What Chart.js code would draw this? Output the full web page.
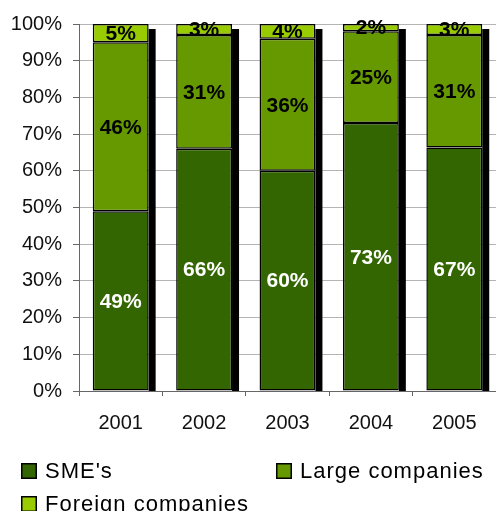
<!DOCTYPE html>
<html>
<head>
<meta charset="utf-8">
<script src="https://cdn.jsdelivr.net/npm/chart.js@4"></script>
<style>
  html, body { margin: 0; padding: 0; background: #fff; }
  #wrap { width: 496px; height: 511px; position: relative; }
</style>
</head>
<body>
<div id="wrap"><canvas id="shareChart"></canvas></div>
<script>
// shares of companies per year (percent)
const years = ['2001', '2002', '2003', '2004', '2005'];
const smes = [49, 66, 60, 73, 67];
const large = [46, 31, 36, 25, 31];
const foreign = [5, 3, 4, 2, 3];
const yTicks = [0, 10, 20, 30, 40, 50, 60, 70, 80, 90, 100];

const FONT = '"Liberation Sans", Arial, sans-serif';

// 100% stacking: each year's segments are scaled to their total
const totals = years.map((_, i) => smes[i] + large[i] + foreign[i]);
const share = arr => arr.map((v, i) => v / totals[i] * 100);

const series = [
    { label: "SME's", raw: smes, color: '#336600', text: '#ffffff' },
    { label: 'Large companies', raw: large, color: '#669900', text: '#000000' },
    { label: 'Foreign companies', raw: foreign, color: '#99cc00', text: '#000000' }
];

// black drop shadow on the right of each stacked column
const shadowPlugin = {
    id: 'barShadow',
    beforeDatasetsDraw(chart) {
        const ctx = chart.ctx;
        const area = chart.chartArea;
        const topMeta = chart.getDatasetMeta(series.length - 1);
        ctx.save();
        ctx.beginPath();
        ctx.rect(area.left, area.top, area.right - area.left, area.bottom - area.top);
        ctx.clip();
        ctx.fillStyle = '#000';
        topMeta.data.forEach(bar => {
            const x = bar.x + bar.width / 2;
            ctx.fillRect(x, bar.y + 5, 7, area.bottom - bar.y - 5);
        });
        ctx.restore();
    }
};

// percent labels in the middle of each segment
const labelPlugin = {
    id: 'segmentLabels',
    afterDatasetsDraw(chart) {
        const ctx = chart.ctx;
        ctx.save();
        ctx.font = 'bold 21px ' + FONT;
        ctx.textAlign = 'center';
        ctx.textBaseline = 'middle';
        series.forEach((s, d) => {
            chart.getDatasetMeta(d).data.forEach((bar, i) => {
                ctx.fillStyle = s.text;
                ctx.fillText(s.raw[i] + '%', bar.x, (bar.y + bar.base) / 2 + 1);
            });
        });
        ctx.restore();
    }
};

// legend laid out in two columns under the axis
const legendPlugin = {
    id: 'gridLegend',
    afterDraw(chart) {
        const ctx = chart.ctx;
        const spots = [[21, 471], [276, 471], [21, 504]];
        ctx.save();
        ctx.font = '22px ' + FONT;
        ctx.letterSpacing = '1px';
        ctx.textBaseline = 'middle';
        ctx.textAlign = 'left';
        series.forEach((s, i) => {
            const [x, y] = spots[i];
            ctx.fillStyle = s.color;
            ctx.fillRect(x, y - 8, 16, 16);
            ctx.strokeStyle = '#000';
            ctx.lineWidth = 1.5;
            ctx.strokeRect(x + 0.75, y - 7.25, 14.5, 14.5);
            ctx.fillStyle = '#000';
            ctx.fillText(s.label, x + 24, y + 1);
        });
        ctx.restore();
    }
};

const ctx = document.getElementById('shareChart').getContext('2d');
new Chart(ctx, {
    type: 'bar',
    data: {
        labels: years,
        datasets: series.map(s => ({
            label: s.label,
            data: share(s.raw),
            backgroundColor: s.color,
            borderColor: '#000',
            borderWidth: 1.5,
            borderSkipped: false,
            barPercentage: 0.67,
            categoryPercentage: 1
        }))
    },
    options: {
        responsive: true,
        maintainAspectRatio: false,
        animation: false,
        layout: { padding: { top: 24, right: -3, bottom: 70, left: 0 } },
        plugins: {
            legend: { display: false },
            tooltip: { enabled: false }
        },
        scales: {
            x: {
                stacked: true,
                afterFit: scale => { scale.height = 50; },
                grid: { offset: true, drawOnChartArea: false, tickLength: 5, tickColor: '#666' },
                border: { display: true, color: '#666' },
                ticks: { color: '#111', padding: 15, font: { family: FONT, size: 20 } }
            },
            y: {
                stacked: true,
                min: 0,
                max: 100,
                afterFit: scale => { scale.width = 79; },
                afterBuildTicks: scale => { scale.ticks = yTicks.map(v => ({ value: v })); },
                grid: { color: '#b4b4b4', tickColor: '#666', tickLength: 6 },
                border: { display: true, color: '#666' },
                ticks: {
                    color: '#111',
                    padding: 11,
                    font: { family: FONT, size: 20 },
                    callback: v => v + '%'
                }
            }
        }
    },
    plugins: [shadowPlugin, labelPlugin, legendPlugin]
});
</script>
</body>
</html>
